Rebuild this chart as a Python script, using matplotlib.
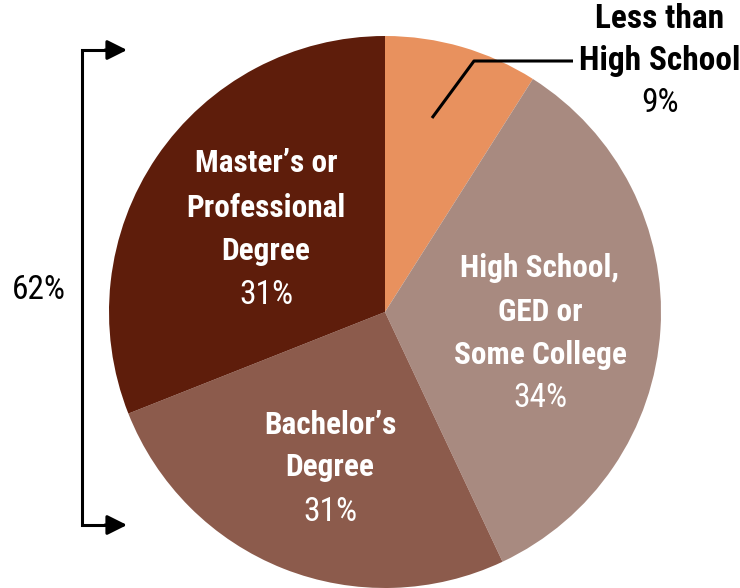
import matplotlib
matplotlib.use("Agg")
import matplotlib.pyplot as plt

# slices clockwise from the top (drawn shares as they appear in the picture)
categories = ["Less than\nHigh School", "High School,\nGED or\nSome College",
              "Bachelor’s\nDegree", "Master’s or\nProfessional\nDegree"]
shares = [9, 34, 26, 31]
pct_labels = ["9%", "34%", "31%", "31%"]
colors = ["#e8915e", "#a88a80", "#8c5b4c", "#5e1d0b"]
bracket_label = "62%"

W, H = 740, 588
FONT = ["Roboto Condensed", "Liberation Sans Narrow", "Lato", "DejaVu Sans"]

fig = plt.figure(figsize=(W / 100, H / 100), dpi=100)
ax = fig.add_axes([0, 0, 1, 1])

def Y(y):
    # picture coords (y down) -> axes coords (y up)
    return H - y

ax.pie(shares, colors=colors, startangle=90, counterclock=False,
       center=(385, Y(312)), radius=276, frame=True,
       wedgeprops=dict(linewidth=0))
ax.set_xlim(0, W)
ax.set_ylim(0, H)
ax.set_aspect("equal")
ax.axis("off")

# labels inside the slices
inside = {1: (540, [268, 312, 355], 398),
          2: (330, [425, 467], 512),
          3: (266, [163, 208, 251], 295)}
for i, (x, ys, yp) in inside.items():
    for line, y in zip(categories[i].split("\n"), ys):
        ax.text(x, Y(y), line, color="white", fontsize=22.5, fontweight="bold",
                family=FONT, ha="center", va="center")
    ax.text(x, Y(yp), pct_labels[i], color="white", fontsize=24,
            family=FONT, ha="center", va="center")

# outside label for the small slice
for line, y in zip(categories[0].split("\n"), [19, 61]):
    ax.text(660, Y(y), line, color="black", fontsize=24, fontweight="bold",
            family=FONT, ha="center", va="center")
ax.text(660, Y(103), pct_labels[0], color="black", fontsize=24,
        family=FONT, ha="center", va="center")
ax.plot([432, 474, 573], [Y(118), Y(61), Y(61)], color="black", lw=2.2,
        solid_capstyle="butt")

# bracket on the left
ax.plot([112, 82, 82, 112], [Y(50), Y(50), Y(525), Y(525)], color="black",
        lw=2.2, solid_joinstyle="miter")
for y in (50, 525):
    ax.annotate("", xy=(127, Y(y)), xytext=(105, Y(y)),
                arrowprops=dict(arrowstyle="-|>", mutation_scale=30,
                                color="black", lw=2.2, shrinkA=0, shrinkB=0))
ax.text(39, Y(290), bracket_label, color="black", fontsize=24,
        family=FONT, ha="center", va="center")

fig.savefig("out.png", dpi=100)
